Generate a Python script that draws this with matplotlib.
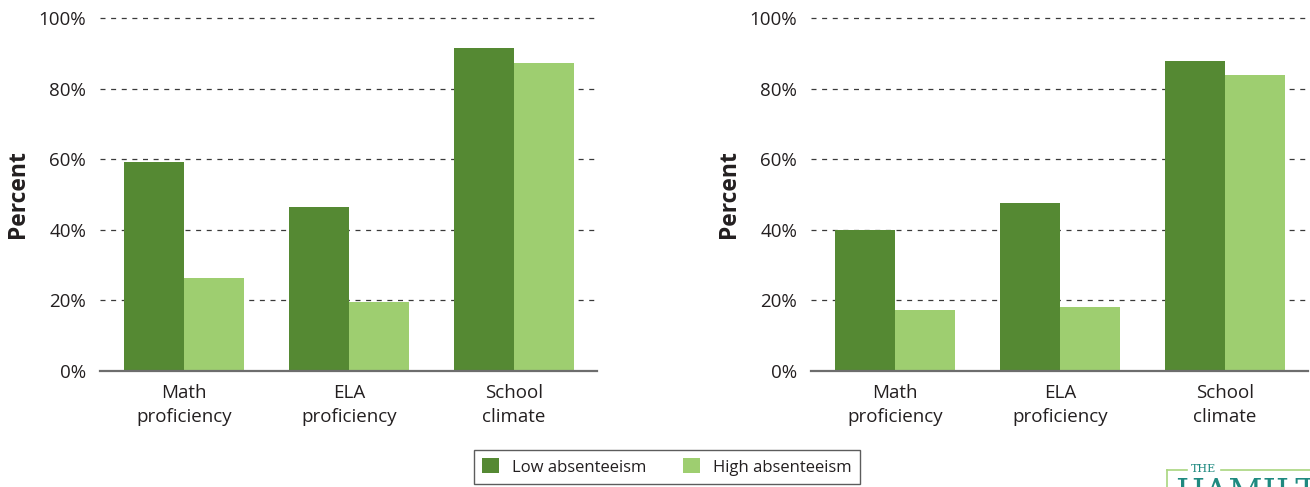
import matplotlib
matplotlib.use("Agg")
import matplotlib.pyplot as plt
import numpy as np
from matplotlib.lines import Line2D
from matplotlib.patches import Patch

plt.rcParams['font.family'] = ['Open Sans', 'DejaVu Sans']

categories = ["Math\nproficiency", "ELA\nproficiency", "School\nclimate"]
series_names = ["Low absenteeism", "High absenteeism"]
left_low = [59.2, 46.5, 91.5]
left_high = [26.3, 19.5, 87.2]
right_low = [40.1, 47.6, 87.8]
right_high = [17.3, 18.1, 83.9]
yticks = [0, 20, 40, 60, 80, 100]

dark = "#558933"
light = "#9ECE70"
text_col = "#231F20"

fig = plt.figure(figsize=(13.1, 4.87), dpi=100)
ax1 = fig.add_axes([0.0763, 0.238, 0.3794, 0.725])
ax2 = fig.add_axes([0.619, 0.238, 0.3794, 0.725])


def draw(ax, low, high):
    x = np.arange(len(categories))
    w = 0.364
    ax.bar(x - w / 2, low, w, color=dark, zorder=3)
    ax.bar(x + w / 2, high, w, color=light, zorder=3)
    ax.set_xlim(-0.51, 2.505)
    ax.set_ylim(0, 100)
    ax.set_yticks(yticks)
    ax.set_yticklabels([f"{v}%" for v in yticks])
    ax.set_xticks(x)
    ax.set_xticklabels(categories, linespacing=1.45)
    ax.tick_params(axis="both", length=0, labelsize=13.5, colors=text_col)
    ax.tick_params(axis="y", pad=10)
    ax.tick_params(axis="x", pad=9)
    for v in yticks[1:]:
        ax.axhline(v, color="#3a3a3a", lw=0.9, ls=(0, (4, 4.5)), zorder=1, clip_on=False)
    for s in ["top", "right", "left"]:
        ax.spines[s].set_visible(False)
    ax.spines["bottom"].set_color("#6d6d6d")
    ax.spines["bottom"].set_linewidth(1.6)
    ax.spines["bottom"].set_zorder(4)
    ax.set_ylabel("Percent", fontsize=16.5, fontweight="bold", color=text_col, labelpad=6)


draw(ax1, left_low, left_high)
draw(ax2, right_low, right_high)

handles = [Patch(facecolor=dark, edgecolor="none"), Patch(facecolor=light, edgecolor="none")]
leg = fig.legend(handles, series_names, loc="center", bbox_to_anchor=(0.509, 0.041),
                 ncol=2, frameon=True, fancybox=False, fontsize=12,
                 handlelength=1.0, handleheight=1.0, columnspacing=2.2, handletextpad=0.8,
                 borderpad=0.5)
leg.get_frame().set_edgecolor("#333333")
leg.get_frame().set_linewidth(1.0)
for t in leg.get_texts():
    t.set_color(text_col)

# partial logo at the lower right corner
teal = "#1F8A80"
fig.add_artist(Line2D([0.891, 0.891], [0.0, 0.035], color="#A9D67F", lw=1.2))
fig.add_artist(Line2D([0.891, 0.906], [0.035, 0.035], color="#A9D67F", lw=1.2))
fig.add_artist(Line2D([0.932, 1.0], [0.035, 0.035], color="#A9D67F", lw=1.2))
fig.text(0.919, 0.036, "THE", ha="center", va="center", fontsize=8,
         family="DejaVu Serif", color=teal)
fig.text(0.897, 0.019, "HAMILTON", ha="left", va="top", fontsize=24,
         family="DejaVu Serif", color=teal)

fig.savefig("out.png", dpi=100)
